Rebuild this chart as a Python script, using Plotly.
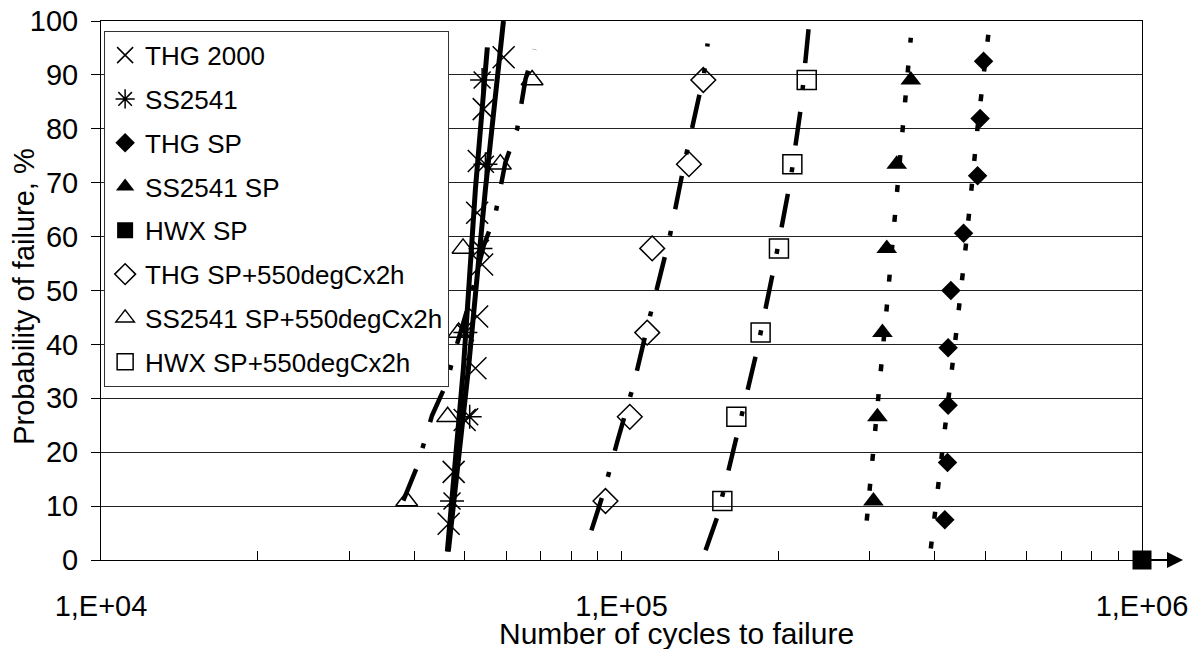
import plotly.graph_objects as go

# ---------------- data ----------------
# median-rank probabilities
p6 = [10.94, 26.56, 42.19, 57.81, 73.44, 89.06]
p9 = [7.45, 18.09, 28.72, 39.36, 50.0, 60.64, 71.28, 81.91, 92.55]
p10 = [6.73, 16.35, 25.96, 35.58, 45.19, 54.81, 64.42, 74.04, 83.65, 93.27]

thg2000_x = [46550, 47590, 49970, 52400, 52800, 53980, 52800, 53180, 54360, 59370]
thg2000_y = p10
ss2541_x = [47250, 51090, 50120, 53580, 54770, 53980]
ss2541_y = p6
thgsp_x = [418000, 423000, 424200, 424200, 429300, 454100, 483100, 488700, 496200]
thgsp_y = p9
ss2541sp_x = [304800, 310200, 317200, 323300, 337900, 359600]
ss2541sp_y = p6
hwxsp_x = [1000000]
hwxsp_y = [0]
thgsp550_x = [93160, 103750, 112050, 114550, 134750, 143610]
thgsp550_y = p6
ss2541sp550_x = [38670, 46340, 48660, 49610, 58510, 67340]
ss2541sp550_y = p6
hwxsp550_x = [156220, 166210, 185040, 200680, 212930, 226920]
hwxsp550_y = p6

# fitted lines (solid)
fitA_x = [46480, 50800, 54770, 59320]
fitA_y = [1.57, 35.46, 68.8, 100.0]
fitB_x = [46280, 49680, 52400, 55240]
fitB_y = [1.57, 35.46, 68.8, 95.1]

# fitted curves (dashed)
fit_thgsp_x = [392900, 420000, 438900, 458700, 483100, 508000]
fit_thgsp_y = [2.13, 25.3, 41.6, 58.3, 80.2, 98.4]
fit_ss2541sp_x = [295900, 308000, 323300, 335000, 347100, 359600]
fit_ss2541sp_y = [7.31, 24.67, 46.9, 63.56, 79.9, 96.9]
fit_thgsp550_x = [87540, 92470, 98100, 105610, 112050, 123310, 132770, 144010, 146380]
fit_thgsp550_y = [5.5, 12.63, 21.89, 32.69, 43.19, 59.22, 74.67, 90.09, 95.83]
fit_hwxsp550_x = [145070, 152760, 166940, 182390, 196880, 211350, 220890, 228920]
fit_hwxsp550_y = [1.81, 8.0, 23.43, 39.17, 54.91, 70.65, 83.61, 98.8]
fit_ss2541sp550_x = [38090, 40460, 43250, 46210, 47590, 51240, 54360, 57240, 59820, 63020, 65390, 68040]
fit_ss2541sp550_y = [11.02, 17.26, 26.81, 33.0, 37.93, 48.43, 58.3, 64.17, 73.74, 79.91, 89.17, 94.72]

x_tickvals = [1e4, 1e5, 1e6]
x_ticktext = ["1,E+04", "1,E+05", "1,E+06"]
x_title = "Number of cycles to failure"
y_title = "Probability of failure, %"

FONT = "Liberation Sans, Arial, sans-serif"
fig = go.Figure()

def curve(x, y, dash, width=4.5):
    fig.add_trace(go.Scatter(x=x, y=y, mode="lines", showlegend=False, hoverinfo="skip",
                             line=dict(color="black", width=width, dash=dash)))

curve(fitA_x, fitA_y, "solid", 5)
curve(fitB_x, fitB_y, "solid", 5)
curve(fit_thgsp_x, fit_thgsp_y, "7px,23px")
curve(fit_ss2541sp_x, fit_ss2541sp_y, "7px,23px")
curve(fit_thgsp550_x, fit_thgsp550_y, "34px,22px,5px,22px")
curve(fit_hwxsp550_x, fit_hwxsp550_y, "34px,22px,5px,22px")
curve(fit_ss2541sp550_x, fit_ss2541sp550_y, "34px,22px,5px,22px")

def pts(name, x, y, symbol, size, lw=1.5, clip=True):
    fig.add_trace(go.Scatter(x=x, y=y, mode="markers", name=name, legendgroup=name,
                             cliponaxis=clip,
                             marker=dict(symbol=symbol, size=size, color="black",
                                         line=dict(color="black", width=lw))))

pts("THG 2000", thg2000_x, thg2000_y, "x-thin-open", 22)
pts("SS2541", ss2541_x, ss2541_y, "asterisk-open", 20)
pts("THG SP", thgsp_x, thgsp_y, "diamond", 15, 0)
pts("SS2541 SP", ss2541sp_x, ss2541sp_y, "triangle-up", 18, 0)
pts("HWX SP", hwxsp_x, hwxsp_y, "square", 19, 0, clip=False)
pts("THG SP+550degCx2h", thgsp550_x, thgsp550_y, "diamond-open", 19)
pts("SS2541 SP+550degCx2h", ss2541sp550_x, ss2541sp550_y, "triangle-up-open", 19)
pts("HWX SP+550degCx2h", hwxsp550_x, hwxsp550_y, "square-open", 19)

# arrow to the right of the run-out point
fig.add_annotation(x=1.0394, y=0, xref="paper", yref="y", ax=-42, ay=0, text="",
                   showarrow=True, arrowhead=2, arrowsize=1.6, arrowwidth=2, arrowcolor="black")

# axis titles
fig.add_annotation(x=0.553, y=-0.136, xref="paper", yref="paper", text=x_title,
                   showarrow=False, xanchor="center", yanchor="middle",
                   font=dict(size=30, family=FONT, color="black"))
fig.add_annotation(x=-0.074, y=0.49, xref="paper", yref="paper", text=y_title,
                   showarrow=False, xanchor="center", yanchor="middle", textangle=-90,
                   font=dict(size=29, family=FONT, color="black"))

fig.update_layout(
    width=1200, height=649,
    margin=dict(l=101, r=58, t=21, b=89, autoexpand=False),
    paper_bgcolor="white", plot_bgcolor="white",
    font=dict(family=FONT, size=29, color="black"),
    legend=dict(x=0.003, y=0.982, xanchor="left", yanchor="top",
                bgcolor="white", bordercolor="#333", borderwidth=1,
                font=dict(size=26, family=FONT), tracegroupgap=7),
    xaxis=dict(type="log", range=[4, 6], tickvals=x_tickvals, ticktext=x_ticktext,
               ticks="inside", ticklen=9, tickcolor="black", ticklabelstandoff=20,
               showline=True, linecolor="black", linewidth=1, mirror=True,
               showgrid=False, zeroline=False, automargin=False,
               minor=dict(ticks="inside", ticklen=9, tickcolor="black", showgrid=False,
                          tickvals=[k * 10 ** e for e in (4, 5) for k in range(2, 10)])),
    yaxis=dict(range=[0, 100], dtick=10, ticks="outside", ticklen=9, tickcolor="black",
               ticklabelstandoff=7, automargin=False,
               showline=True, linecolor="black", linewidth=1, mirror=True,
               showgrid=True, gridcolor="#222", gridwidth=1, zeroline=False),
)

fig.write_html("out.html", config={"displayModeBar": False},
               post_script="document.body.style.margin='0';")
